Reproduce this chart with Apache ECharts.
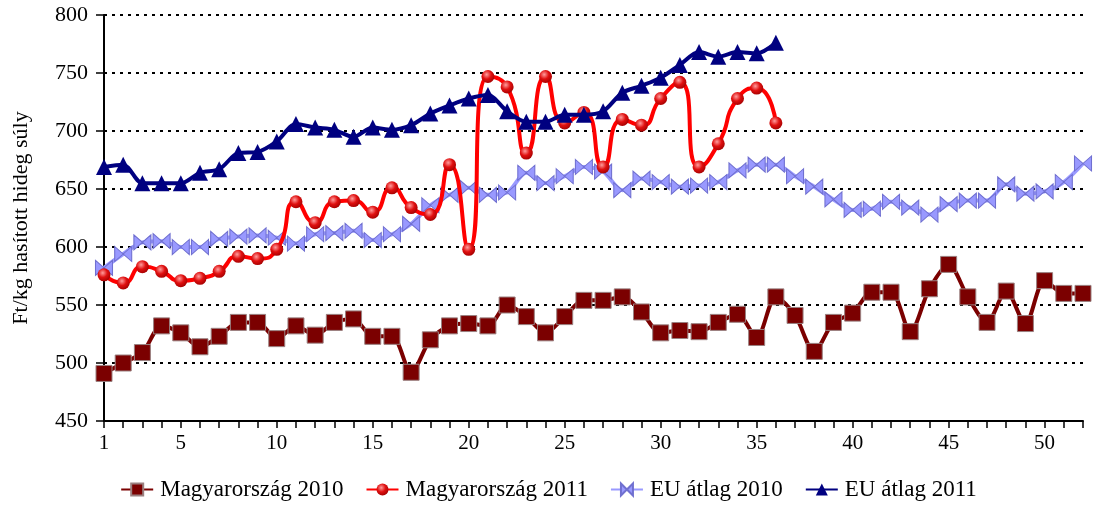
<!DOCTYPE html>
<html>
<head>
<meta charset="utf-8">
<script src="https://cdn.jsdelivr.net/npm/echarts@6/dist/echarts.min.js"></script>
<style>
  html, body { margin: 0; padding: 0; background: #fff; }
  #main { width: 1097px; height: 510px; }
</style>
</head>
<body>
<div id="main"></div>
<script>
// hetek (1-52)
var weeks = [];
for (var i = 1; i <= 52; i++) weeks.push(String(i));

var huf2010 = [491, 500, 509, 532, 526, 514, 523, 535, 535, 521, 532, 524, 535, 538, 523, 523, 492,
  520, 532, 534, 532, 550, 540, 526, 540, 554, 554, 557, 544, 526, 528, 527, 535, 542, 522,
  557, 541, 510, 535, 543, 561, 561, 527, 564, 585, 557, 535, 562, 534, 571, 560, 560];

var huf2011 = [576, 569, 583, 579, 571, 573, 579, 592, 590, 598, 639, 621, 639, 640, 630, 651, 634,
  628, 671, 598, 747, 738, 681, 747, 707, 716, 669, 710, 705, 728, 742, 669, 689, 728, 737, 707];

var eu2010 = [582, 594, 604, 605, 600, 600, 607, 609, 610, 608, 603, 611, 612, 614, 606, 611, 620,
  636, 645, 651, 645, 647, 664, 655, 661, 669, 665, 649, 659, 656, 652, 653, 656, 666, 671,
  671, 661, 652, 641, 632, 633, 639, 634, 628, 637, 640, 640, 654, 646, 648, 656, 672];

var eu2011 = [669, 671, 655, 655, 655, 664, 667, 681, 682, 691, 706, 703, 701, 695, 703, 701, 705,
  715, 722, 728, 731, 717, 708, 708, 714, 714, 717, 733, 739, 746, 757, 768, 764, 768, 767, 776];

var serif = '"Liberation Serif", "DejaVu Serif", serif';

var myChart = echarts.init(document.getElementById('main'));

var bowtie = 'path://M0,0L10,5L0,10ZM20,0L10,5L20,10ZM0,0L20,10M0,10L20,0';

var option = {
  animation: false,
  textStyle: { fontFamily: serif, color: '#000' },
  grid: { left: 104, right: 14, top: 15, bottom: 89 },
  legend: {
    bottom: 4,
    left: 'center',
    itemWidth: 32,
    itemHeight: 15,
    itemGap: 22,
    textStyle: { fontFamily: serif, fontSize: 23, color: '#000', padding: [0, 0, 0, 2] },
    data: ['Magyarország 2010', 'Magyarország 2011', 'EU átlag 2010', 'EU átlag 2011']
  },
  xAxis: {
    type: 'category',
    boundaryGap: false,
    data: weeks,
    axisLine: { lineStyle: { color: '#000', width: 2 } },
    axisTick: { show: true, interval: 0, length: 7, lineStyle: { color: '#000', width: 1.5 } },
    axisLabel: {
      interval: function (idx) { return idx === 0 || (idx + 1) % 5 === 0; },
      fontFamily: serif, fontSize: 21, color: '#000', margin: 12
    },
    splitLine: { show: false }
  },
  yAxis: {
    type: 'value',
    min: 450,
    max: 800,
    interval: 50,
    name: 'Ft/kg hasított hideg súly',
    nameLocation: 'middle',
    nameGap: 72,
    nameTextStyle: { fontFamily: serif, fontSize: 22, color: '#000' },
    axisLine: { show: true, lineStyle: { color: '#000', width: 2 } },
    axisTick: { show: true, length: 8, lineStyle: { color: '#000', width: 1.5 } },
    axisLabel: { fontFamily: serif, fontSize: 22, color: '#000', margin: 16 },
    splitLine: { show: true, lineStyle: { color: '#000', width: 2, type: [3, 5] } }
  },
  series: [
    {
      name: 'Magyarország 2010',
      type: 'line',
      data: huf2010,
      smooth: 0.3,
      showAllSymbol: true,
      symbol: 'rect',
      symbolSize: 16,
      lineStyle: { color: '#7b0000', width: 4 },
      itemStyle: { color: '#7b0000', borderColor: '#9a8080', borderWidth: 1 },
      z: 2
    },
    {
      name: 'Magyarország 2011',
      type: 'line',
      data: huf2011,
      smooth: 0.6,
      showAllSymbol: true,
      symbol: 'circle',
      symbolSize: 13,
      lineStyle: { color: '#ff0000', width: 4 },
      itemStyle: {
        color: new echarts.graphic.RadialGradient(0.4, 0.35, 0.7, [
          { offset: 0, color: '#ff9c9c' },
          { offset: 0.5, color: '#e01010' },
          { offset: 1, color: '#a00000' }
        ])
      },
      z: 4
    },
    {
      name: 'EU átlag 2010',
      type: 'line',
      data: eu2010,
      smooth: 0.3,
      showAllSymbol: true,
      symbol: bowtie,
      symbolSize: [17, 15],
      lineStyle: { color: '#9999ff', width: 4 },
      itemStyle: { color: '#9999ff', borderColor: '#7070d0', borderWidth: 1 },
      z: 3
    },
    {
      name: 'EU átlag 2011',
      type: 'line',
      data: eu2011,
      smooth: 0.3,
      showAllSymbol: true,
      symbol: 'triangle',
      symbolSize: 16,
      lineStyle: { color: '#000080', width: 4 },
      itemStyle: { color: '#000080' },
      z: 5
    }
  ]
};

myChart.setOption(option);
window.addEventListener('resize', function () {
  myChart.resize();
});
</script>
</body>
</html>
